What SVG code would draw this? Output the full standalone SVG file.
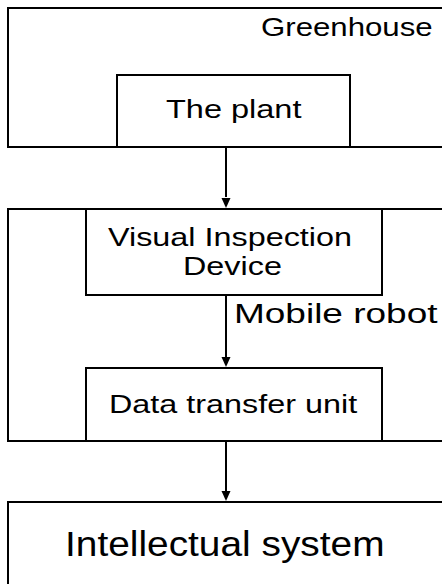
<svg xmlns="http://www.w3.org/2000/svg" width="442" height="584" viewBox="0 0 442 584">
<style>
.box{fill:none;stroke:#000;stroke-width:2}
.t{font-family:"Liberation Sans",Arial,sans-serif;font-size:26px;fill:#000}
.c{stroke:#000;stroke-width:2;fill:none}
.ah{fill:#000}
</style>
<rect width="442" height="584" fill="#fff"/>
<g id="greenhouse">
<rect class="box" x="8" y="8" width="450" height="139"/>
<text class="t" transform="matrix(1.2,0,0,1,261,36)">Greenhouse</text>
</g>
<g id="plant">
<rect class="box" x="117" y="75" width="233" height="72"/>
<text class="t" transform="matrix(1.25,0,0,1,166,118)">The plant</text>
</g>
<g id="mobile-robot">
<rect class="box" x="8" y="209" width="450" height="232"/>
<text class="t" style="font-size:27px" transform="matrix(1.37,0,0,1,234,323)">Mobile robot</text>
</g>
<g id="visual-inspection">
<rect class="box" x="86" y="209" width="296" height="86"/>
<text class="t" transform="matrix(1.245,0,0,1,108,246)">Visual Inspection</text>
<text class="t" transform="matrix(1.245,0,0,1,183,275)">Device</text>
</g>
<g id="data-transfer">
<rect class="box" x="86" y="368" width="296" height="73"/>
<text class="t" transform="matrix(1.245,0,0,1,109,413)">Data transfer unit</text>
</g>
<g id="intellectual">
<rect class="box" x="8" y="502" width="450" height="100"/>
<text class="t" style="font-size:35px" transform="matrix(1.11,0,0,1,65,556)">Intellectual system</text>
</g>
<g id="connectors">
<path d="M226,147 V197" class="c"/>
<path class="ah" d="M221.5,198 L230.5,198 L226,208 Z"/>
<path d="M226,295 V357" class="c"/>
<path class="ah" d="M221.5,357 L230.5,357 L226,367 Z"/>
<path d="M226,441 V491" class="c"/>
<path class="ah" d="M221.5,491 L230.5,491 L226,501 Z"/>
</g>
</svg>
